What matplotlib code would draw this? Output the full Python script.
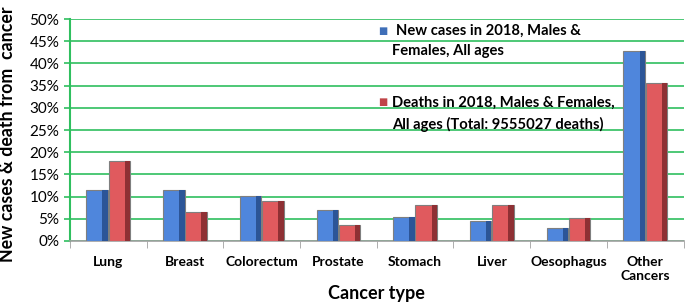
import numpy as np
import matplotlib.pyplot as plt
from matplotlib.ticker import PercentFormatter

categories = ['Lung', 'Breast', 'Colorectum', 'Prostate', 'Stomach', 'Liver',
              'Oesophagus', 'Other\nCancers']
new_cases = [11.4, 11.4, 10.1, 7.0, 5.5, 4.6, 3.0, 42.8]
deaths = [18.1, 6.5, 9.0, 3.6, 8.0, 8.0, 5.1, 35.7]

plt.rcParams['font.family'] = ['Lato', 'DejaVu Sans']

fig = plt.figure(figsize=(6.85, 3.07), dpi=100)
ax = fig.add_axes([0.102, 0.215, 0.896, 0.723])

x = np.arange(len(categories))
w = 0.28
sh = 0.07  # width of the darker side band (bevel look)
grid_green = '#2fbf5f'

xb = x - w / 2 - 0.005
xr = x + w / 2 + 0.005
ax.bar(xb, new_cases, w, color='#4f86dc', edgecolor='#7f7f7f',
       linewidth=0.8, zorder=3)
ax.bar(xb + w / 2 - sh / 2, new_cases, sh, color='#2c5597', linewidth=0, zorder=4)
ax.bar(xr, deaths, w, color='#e05a5e', edgecolor='#7f7f7f',
       linewidth=0.8, zorder=3)
ax.bar(xr + w / 2 - sh / 2, deaths, sh, color='#8e3034', linewidth=0, zorder=4)

ax.set_xlim(-0.5, len(categories) - 0.5)
ax.set_ylim(0, 50)
ax.set_yticks(np.arange(0, 51, 5))
ax.yaxis.set_major_formatter(PercentFormatter(decimals=0))
ax.grid(axis='y', color=grid_green, linewidth=1.2, zorder=0)
ax.set_axisbelow(True)

ax.set_xticks(x)
ax.set_xticklabels(categories, fontweight='bold', fontsize=10)
ax.set_xticks(np.arange(-0.5, len(categories), 1), minor=True)
ax.tick_params(axis='x', which='major', length=0, pad=11)
ax.tick_params(axis='x', which='minor', length=5, color='#a0a0a0', direction='out')
ax.tick_params(axis='y', labelsize=11, color=grid_green, length=4, width=1.2)

for s in ['top', 'right']:
    ax.spines[s].set_visible(False)
ax.spines['left'].set_color(grid_green)
ax.spines['left'].set_linewidth(1.5)
ax.spines['bottom'].set_color('#a0a0a0')
ax.spines['bottom'].set_linewidth(1.2)

ax.set_ylabel('New cases & death from  cancer', fontweight='bold', fontsize=12.8)
ax.yaxis.set_label_coords(-0.087, 0.48)
ax.set_xlabel('Cancer type', fontweight='bold', fontsize=13)
ax.xaxis.set_label_coords(0.5, -0.2)

# legend drawn as free text, like the original
ax.text(0.503, 0.946, '\u25A0', color='#3f6fb8', fontsize=7, transform=ax.transAxes,
        va='center', ha='left')
ax.text(0.531, 0.946, 'New cases in 2018, Males &', fontweight='bold', fontsize=10.6,
        transform=ax.transAxes, va='center')
ax.text(0.525, 0.856, 'Females, All ages', fontweight='bold', fontsize=10.6,
        transform=ax.transAxes, va='center')
ax.text(0.503, 0.622, '\u25A0', color='#c04448', fontsize=7, transform=ax.transAxes,
        va='center', ha='left')
ax.text(0.525, 0.622, 'Deaths in 2018, Males & Females,', fontweight='bold', fontsize=10.6,
        transform=ax.transAxes, va='center')
ax.text(0.525, 0.527, 'All ages (Total: 9555027 deaths)', fontweight='bold', fontsize=10.6,
        transform=ax.transAxes, va='center')

fig.savefig('out.png', dpi=100)
